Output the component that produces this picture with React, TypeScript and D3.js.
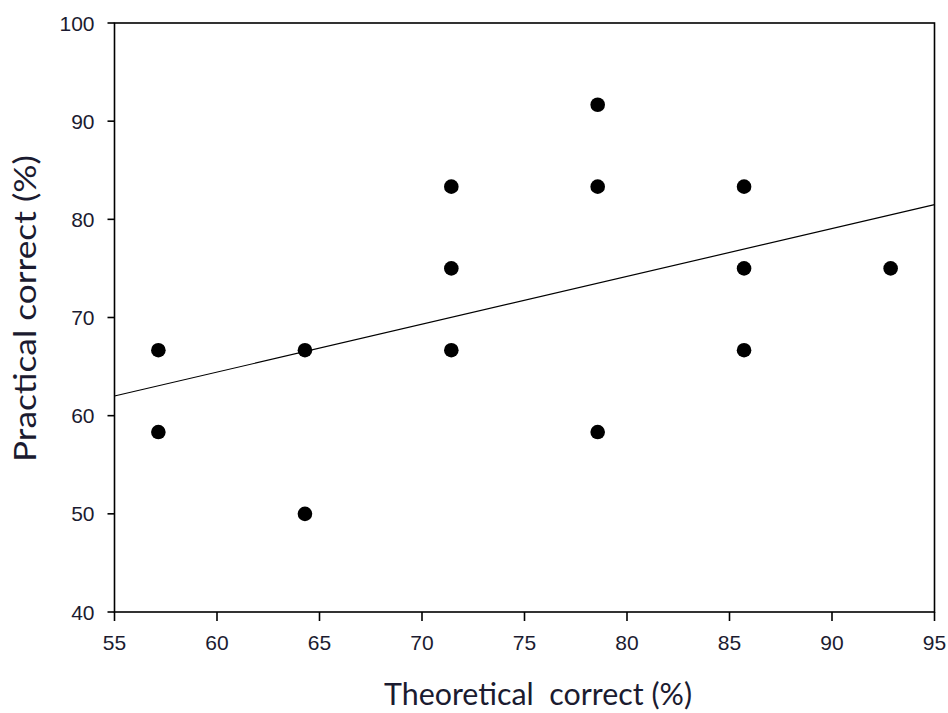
import React from "react";
import * as d3 from "d3";

const theoreticalX: number[] = [57.14, 57.14, 64.29, 64.29, 71.43, 71.43, 71.43, 78.57, 78.57, 78.57, 85.71, 85.71, 85.71, 92.86];
const practicalY: number[] = [66.67, 58.33, 66.67, 50.0, 83.33, 75.0, 66.67, 91.67, 83.33, 58.33, 83.33, 75.0, 66.67, 75.0];
const fitLineX: number[] = [55, 95];
const fitLineY: number[] = [62.0, 81.5];
const xTicks: number[] = [55, 60, 65, 70, 75, 80, 85, 90, 95];
const yTicks: number[] = [40, 50, 60, 70, 80, 90, 100];

const W = 948;
const H = 713;
const left = 114.5;
const right = 934.5;
const top = 23;
const bottom = 612;

export default function App() {
  const x = d3.scaleLinear().domain([55, 95]).range([left, right]);
  const y = d3.scaleLinear().domain([40, 100]).range([bottom, top]);
  const line = d3
    .line<[number, number]>()
    .x((d) => x(d[0]))
    .y((d) => y(d[1]));
  const fit: [number, number][] = fitLineX.map((v, i) => [v, fitLineY[i]]);
  const tickFont = "'Liberation Sans', Arial, sans-serif";
  const titleFont = "Lato, 'Open Sans', sans-serif";
  const textColor = "#1b1b30";
  return (
    <svg
      width={W}
      height={H}
      style={{ position: "absolute", left: 0, top: 0, background: "#fff" }}
    >
      <rect x={0} y={0} width={W} height={H} fill="#fff" />
      <rect
        x={left}
        y={top}
        width={right - left}
        height={bottom - top}
        fill="none"
        stroke="#000"
        strokeWidth={1.6}
      />
      {yTicks.map((t) => (
        <g key={"y" + t}>
          <line x1={left - 7} x2={left} y1={y(t)} y2={y(t)} stroke="#000" strokeWidth={1.6} />
          <text
            x={left - 20}
            y={y(t)}
            dy="0.36em"
            textAnchor="end"
            fontFamily={tickFont}
            fontSize={21}
            fill={textColor}
          >
            {t}
          </text>
        </g>
      ))}
      {xTicks.map((t) => (
        <g key={"x" + t}>
          <line x1={x(t)} x2={x(t)} y1={bottom} y2={bottom + 9} stroke="#000" strokeWidth={1.6} />
          <text
            x={x(t)}
            y={650}
            textAnchor="middle"
            fontFamily={tickFont}
            fontSize={21}
            fill={textColor}
          >
            {t}
          </text>
        </g>
      ))}
      <path d={line(fit) || ""} fill="none" stroke="#000" strokeWidth={1.2} />
      {theoreticalX.map((v, i) => (
        <circle key={i} cx={x(v)} cy={y(practicalY[i])} r={7.3} fill="#000" />
      ))}
      <text
        x={538}
        y={705}
        textAnchor="middle"
        fontFamily={titleFont}
        fontSize={30}
        fill={textColor}
        textLength={308}
        lengthAdjust="spacingAndGlyphs"
        style={{ whiteSpace: "pre" }}
      >
        {"Theoretical  correct (%)"}
      </text>
      <text
        transform={`translate(36, 308.5) rotate(-90)`}
        textAnchor="middle"
        fontFamily={titleFont}
        fontSize={30}
        fill={textColor}
        textLength={307}
        lengthAdjust="spacingAndGlyphs"
      >
        Practical correct (%)
      </text>
    </svg>
  );
}
